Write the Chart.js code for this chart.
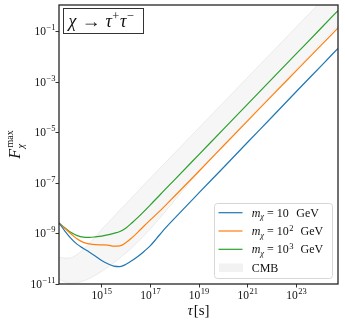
<!DOCTYPE html>
<html><head><meta charset="utf-8">
<script src="https://cdn.jsdelivr.net/npm/chart.js@4.4.1/dist/chart.umd.min.js"></script>
<style>html,body{margin:0;padding:0;background:#fff;}#wrap{width:345px;height:326px;}</style>
</head><body><div id="wrap"><canvas id="c" width="345" height="326"></canvas></div>
<script>
// lifetime tau [s]
const tau = [1.78e13,3.16e13,5.62e13,1e14,1.78e14,3.16e14,5.62e14,1e15,1.78e15,3.16e15,5.62e15,1e16,1.78e16,3.16e16,5.62e16,1e17,1.78e17,3.16e17,1e18,1e19,1e20,1e21,1e22,1e23,1e24,5.0e24];
// F_chi^max for m_chi = 10, 10^2, 10^3 GeV
const F_m10 = [2.63e-9,1.23e-9,6.31e-10,3.72e-10,2.57e-10,1.82e-10,1.26e-10,8.51e-11,6.31e-11,5.13e-11,4.90e-11,6.03e-11,8.51e-11,1.26e-10,2.0e-10,3.31e-10,6.31e-10,1.23e-9,4.07e-9,4.17e-8,4.17e-7,4.27e-6,4.27e-5,4.37e-4,4.37e-3,2.19e-2];
const F_m100 = [2.63e-9,1.58e-9,9.55e-10,6.03e-10,4.47e-10,3.89e-10,3.63e-10,3.55e-10,3.47e-10,3.16e-10,3.24e-10,4.37e-10,6.92e-10,1.17e-9,2.04e-9,3.47e-9,5.89e-9,1.0e-8,3.09e-8,3.02e-7,3.02e-6,3.02e-5,3.02e-4,2.95e-3,2.88e-2,1.41e-1];
const F_m1000 = [2.63e-9,1.66e-9,1.10e-9,8.32e-10,7.24e-10,7.08e-10,7.41e-10,7.94e-10,8.91e-10,1.02e-9,1.20e-9,1.66e-9,2.69e-9,4.47e-9,7.76e-9,1.38e-8,2.45e-8,4.37e-8,1.38e-7,1.38e-6,1.38e-5,1.38e-4,1.38e-3,1.38e-2,1.38e-1,6.92e-1];
// CMB band
const cmbUpper = [1.15e-10,1.07e-10,1.10e-10,1.51e-10,2.40e-10,4.17e-10,7.59e-10,1.45e-9,2.63e-9,4.68e-9,8.51e-9,1.51e-8,2.75e-8,4.90e-8,8.91e-8,1.58e-7,2.82e-7,5.01e-7,1.58e-6,1.58e-5,1.58e-4,1.58e-3,1.58e-2,1.58e-1,1.58,7.94];
const cmbLower = [1.58e-11,1.20e-11,1.07e-11,1.12e-11,1.32e-11,1.66e-11,2.24e-11,3.16e-11,4.57e-11,6.92e-11,1.07e-10,1.70e-10,2.82e-10,4.79e-10,8.51e-10,1.55e-9,2.88e-9,5.50e-9,2.09e-8,2.82e-7,3.16e-6,3.39e-5,3.47e-4,3.47e-3,3.47e-2,1.74e-1];
// ticks
const xTicks = [1e15,1e17,1e19,1e21,1e23];
const xTickExp = ['15','17','19','21','23'];
const yTicks = [1e-1,1e-3,1e-5,1e-7,1e-9,1e-11];
const yTickExp = ['\u22121','\u22123','\u22125','\u22127','\u22129','\u221211'];
// legend
const massBase = ['10','10','10'];
const massExp = ['','2','3'];
const colors = ['#1f77b4','#ff7f0e','#2ca02c'];

const SERIF = "'Liberation Serif','DejaVu Serif',serif";
const pts = arr => arr.map((v,i)=>({x:tau[i],y:v}));

function lineDs(data,color){
  return {data:pts(data),borderColor:color,borderWidth:1.2,pointRadius:0,fill:false,cubicInterpolationMode:'monotone'};
}

function drawPow(ctx,x,y,base,exp,bs,es,rise){
  ctx.font = bs+'px '+SERIF; ctx.fillText(base,x,y);
  const wb = ctx.measureText(base).width;
  ctx.font = es+'px '+SERIF; ctx.fillText(exp,x+wb+0.5,y-rise);
  return wb+0.5+ctx.measureText(exp).width;
}
function powWidth(ctx,base,exp,bs,es){
  ctx.font = bs+'px '+SERIF; const a = ctx.measureText(base).width;
  ctx.font = es+'px '+SERIF; return a+0.5+ctx.measureText(exp).width;
}

const deco = {
  id:'deco',
  afterDraw(chart){
    const ctx = chart.ctx, a = chart.chartArea;
    const xs = chart.scales.x, ys = chart.scales.y;
    ctx.save();
    // frame
    ctx.strokeStyle='#262626'; ctx.lineWidth=1.3;
    ctx.strokeRect(a.left,a.top,a.right-a.left,a.bottom-a.top);
    ctx.fillStyle='#111'; ctx.textBaseline='alphabetic'; ctx.textAlign='left';
    // x tick labels
    xTicks.forEach((v,i)=>{
      const px = xs.getPixelForValue(v);
      const w = powWidth(ctx,'10',xTickExp[i],11.5,8.5);
      drawPow(ctx,px-w/2,299,'10',xTickExp[i],11.5,8.5,5);
    });
    // y tick labels
    yTicks.forEach((v,i)=>{
      const py = ys.getPixelForValue(v);
      const w = powWidth(ctx,'10',yTickExp[i],11.5,8.5);
      drawPow(ctx,55.5-w,py+3.5,'10',yTickExp[i],11.5,8.5,5);
    });
    // x axis label
    ctx.font='italic 15px '+SERIF;
    const wt = ctx.measureText('\u03c4').width;
    ctx.font='15px '+SERIF;
    const ws = ctx.measureText('[s]').width;
    const cx = (a.left+a.right)/2, tot = wt+1+ws;
    ctx.font='italic 15px '+SERIF; ctx.fillText('\u03c4',cx-tot/2,315);
    ctx.font='15px '+SERIF; ctx.fillText('[s]',cx-tot/2+wt+1,315);
    // y axis label (rotated)
    ctx.save();
    ctx.font='italic 16px '+SERIF; const wF = ctx.measureText('F').width;
    ctx.font='10px '+SERIF; const wm = ctx.measureText('max').width;
    const ltot = wF+1.5+wm;
    const cy = (a.top+a.bottom)/2;
    ctx.translate(20, cy+ltot/2); ctx.rotate(-Math.PI/2);
    ctx.font='italic 16px '+SERIF; ctx.fillText('F',0,0);
    ctx.font='10px '+SERIF; ctx.fillText('max',wF+1.5,-7);
    ctx.font='italic 10.5px '+SERIF; ctx.fillText('\u03c7',wF+0.5,4);
    ctx.restore();
    // title box
    ctx.fillStyle='#fff'; ctx.fillRect(63.5,8.5,80,25);
    ctx.strokeStyle='#333'; ctx.lineWidth=1; ctx.strokeRect(63.5,8.5,80,25);
    ctx.fillStyle='#111';
    let tx = 68.5; const ty = 27;
    ctx.font='italic 18px '+SERIF; ctx.fillText('\u03c7',tx,ty); tx += ctx.measureText('\u03c7').width+5;
    ctx.save(); ctx.font='18px '+SERIF; const wa = ctx.measureText('\u2192').width;
    ctx.translate(tx,ty); ctx.scale(19/wa,1); ctx.fillText('\u2192',0,0); ctx.restore();
    tx += 19+5;
    ctx.font='italic 18px '+SERIF; ctx.fillText('\u03c4',tx,ty); tx += ctx.measureText('\u03c4').width+0.5;
    ctx.font='12.5px '+SERIF; ctx.fillText('+',tx,ty-7.5); tx += ctx.measureText('+').width+0.5;
    ctx.font='italic 18px '+SERIF; ctx.fillText('\u03c4',tx,ty); tx += ctx.measureText('\u03c4').width+0.5;
    ctx.font='12.5px '+SERIF; ctx.fillText('\u2212',tx,ty-7.5);
    // legend
    const L = {x:214.5,y:203.5,w:118,h:75};
    ctx.beginPath(); ctx.roundRect(L.x,L.y,L.w,L.h,3);
    ctx.fillStyle='rgba(255,255,255,0.85)'; ctx.fill();
    ctx.strokeStyle='#d6d6d6'; ctx.lineWidth=1; ctx.stroke();
    const rows = [212.7,231,249.3,267.7];
    for(let i=0;i<3;i++){
      const y = rows[i];
      ctx.strokeStyle=colors[i]; ctx.lineWidth=1.2;
      ctx.beginPath(); ctx.moveTo(218.5,y); ctx.lineTo(242.5,y); ctx.stroke();
      ctx.fillStyle='#111';
      let x = 251.7; const by = y+4;
      ctx.font='italic 12px '+SERIF; ctx.fillText('m',x,by); x += ctx.measureText('m').width;
      ctx.font='italic 8.5px '+SERIF; ctx.fillText('\u03c7',x,by+2.5); x += ctx.measureText('\u03c7').width+3;
      ctx.font='12px '+SERIF; ctx.fillText('=',x,by); x += ctx.measureText('=').width+3;
      x += drawPow(ctx,x,by,massBase[i],massExp[i],12,8.5,4.5);
      x += 7;
      ctx.font='12px '+SERIF; ctx.fillText('GeV',x,by);
    }
    ctx.fillStyle='rgba(128,128,128,0.1)';
    ctx.fillRect(219,263.5,24,8.5);
    ctx.fillStyle='#111'; ctx.font='12px '+SERIF; ctx.fillText('CMB',251.7,rows[3]+4);
    ctx.restore();
  }
};

new Chart(document.getElementById('c'),{
  type:'line',
  data:{datasets:[
    lineDs(F_m10,colors[0]),
    lineDs(F_m100,colors[1]),
    lineDs(F_m1000,colors[2]),
    {data:pts(cmbUpper),borderColor:'rgba(128,128,128,0.13)',borderWidth:1,pointRadius:0,fill:'+1',backgroundColor:'rgba(128,128,128,0.07)',cubicInterpolationMode:'monotone'},
    {data:pts(cmbLower),borderColor:'rgba(128,128,128,0.13)',borderWidth:1,pointRadius:0,fill:false,cubicInterpolationMode:'monotone'}
  ]},
  options:{
    responsive:false,animation:false,
    layout:{padding:{left:0,right:7,top:5,bottom:0}},
    plugins:{legend:{display:false},tooltip:{enabled:false}},
    scales:{
      x:{type:'logarithmic',min:1.78e13,max:5.0e24,
        afterBuildTicks:s=>{s.ticks=xTicks.map(v=>({value:v}));},
        afterFit:s=>{s.height=42;},
        ticks:{display:false},
        grid:{drawOnChartArea:false,drawTicks:true,tickLength:3.5,color:'#333',lineWidth:1},
        border:{display:false}},
      y:{type:'logarithmic',min:1e-11,max:1.15,
        afterBuildTicks:s=>{s.ticks=yTicks.map(v=>({value:v}));},
        afterFit:s=>{s.width=59;},
        ticks:{display:false},
        grid:{drawOnChartArea:false,drawTicks:true,tickLength:3.5,color:'#333',lineWidth:1},
        border:{display:false}}
    }
  },
  plugins:[deco]
});
</script></body></html>
